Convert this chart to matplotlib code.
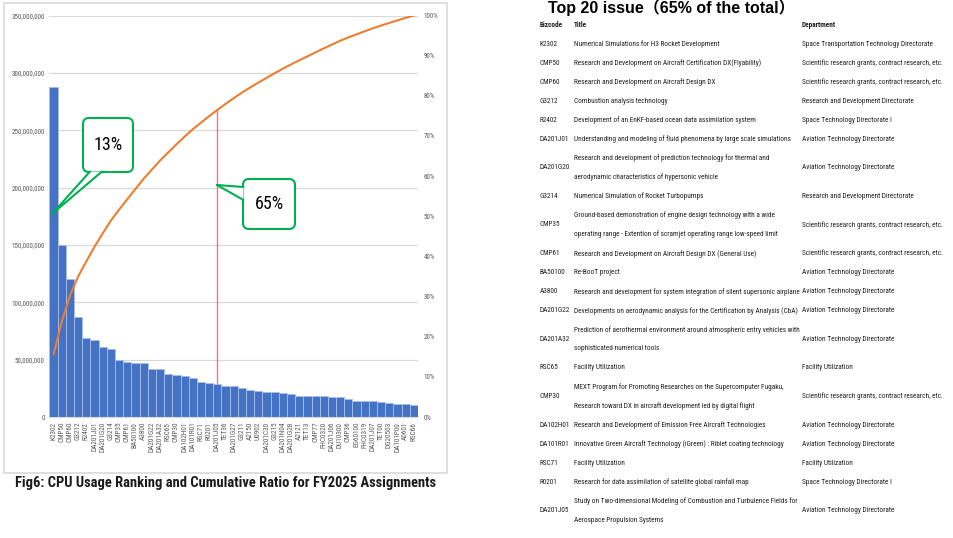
import numpy as np
import matplotlib
matplotlib.use("Agg")
import matplotlib.pyplot as plt
from matplotlib import font_manager
from matplotlib.patches import FancyBboxPatch, Polygon, Rectangle
from matplotlib.transforms import Affine2D
from matplotlib.ticker import FuncFormatter, MultipleLocator

# ---- data ----
bizcodes = ["K2302", "CMP50", "CMP60", "G3212", "R2402", "DA201J01", "DA201G20", "G3214",
            "CMP35", "CMP61", "BA50100", "A3800", "DA201G22", "DA201A32", "RSC65", "CMP30",
            "DA102H01", "DA101R01", "RSC71", "R0201", "DA201J05", "TET36", "DA201G27", "G3211",
            "A2150", "U0902", "DA201C30", "G3215", "DA201N04", "DA201G28", "A2121", "TET13",
            "CMP77", "FHC0320", "DA201J06", "DU10300", "CMP36", "EG60100", "FHC0319", "DA201J07",
            "TET00", "DG20503", "DA101P00", "A0601", "RSC66"]
cpu_usage = [288, 150, 120, 87.5, 69.2, 67.2, 61.4, 59.1, 49.7, 48.0, 47.1, 46.8, 41.9, 41.6,
             37.5, 36.9, 35.5, 33.8, 30.5, 29.7, 28.8, 27.3, 26.8, 25.3, 23.3, 22.4, 21.8, 21.6,
             20.7, 19.8, 18.6, 18.3, 18.3, 18.3, 17.5, 17.5, 15.4, 14.0, 14.0, 13.7, 12.8, 12.0,
             11.6, 11.6, 10.7]  # millions
cpu_usage = np.array(cpu_usage) * 1e6
cut_index = 20  # DA201J05

table_codes = bizcodes[:21]
table_titles = [
    "Numerical Simulations for H3 Rocket Development",
    "Research and Development on Aircraft Certification DX(Flyability)",
    "Research and Development on Aircraft Design DX",
    "Combustion analysis technology",
    "Development of an EnKF-based ocean data assimilation system",
    "Understanding and modeling of fluid phenomena by large scale simulations",
    "Research and development of prediction technology for thermal and\naerodynamic characteristics of hypersonic vehicle",
    "Numerical Simulation of Rocket Turbopumps",
    "Ground-based demonstration of engine design technology with a wide\noperating range - Extention of scramjet operating range low-speed limit",
    "Research and Development on Aircraft Design DX (General Use)",
    "Re-BooT project",
    "Research and development for system integration of silent supersonic airplane",
    "Developments on aerodynamic analysis for the Certification by Analysis (CbA)",
    "Prediction of aerothermal environment around atmospheric entry vehicles with\nsophisticated numerical tools",
    "Facility Utilization",
    "MEXT Program for Promoting Researches on the Supercomputer Fugaku,\nResearch toward DX in aircraft development led by digital flight",
    "Research and Development of Emission Free Aircraft Technologies",
    "Innovative Green Aircraft Technology (iGreen) : Riblet coating technology",
    "Facility Utilization",
    "Research for data assimilation of satellite global rainfall map",
    "Study on Two-dimensional Modeling of Combustion and Turbulence Fields for\nAerospace Propulsion Systems",
]
SCI = "Scientific research grants, contract research, etc."
AVI = "Aviation Technology Directorate"
RDD = "Research and Development Directorate"
table_depts = ["Space Transportation Technology Directorate", SCI, SCI, RDD,
               "Space Technology Directorate I", AVI, AVI, RDD, SCI, SCI, AVI, AVI, AVI, AVI,
               "Facility Utilization", SCI, AVI, AVI, "Facility Utilization",
               "Space Technology Directorate I", AVI]

# ---- fonts ----
names = {f.name for f in font_manager.fontManager.ttflist}
narrow = next((n for n in ["Roboto Condensed", "Liberation Sans Narrow", "DejaVu Sans"] if n in names), "DejaVu Sans")
plt.rcParams["font.family"] = [narrow, "DejaVu Sans"]

W, H = 954, 538
fig = plt.figure(figsize=(W / 100, H / 100), dpi=100)
# pixel coordinates (origin top-left) -> figure
T = Affine2D().scale(1 / W, -1 / H).translate(0, 1) + fig.transFigure
renderer = fig.canvas.get_renderer()


def fit(t, width_px):
    w = t.get_window_extent(renderer).width
    t.set_fontsize(t.get_fontsize() * width_px / w)
    return t


# chart area frame
fig.patches.append(Rectangle((4, 3), 443, 470, transform=T, fill=False,
                             edgecolor="#d9d9d9", lw=1.2, zorder=-1))

ax = fig.add_axes([49.5 / W, 1 - 417 / H, (418 - 49.5) / W, (417 - 15.5) / H])
x = np.arange(len(bizcodes))
ax.bar(x, cpu_usage, width=1.0, color="#4472C4", edgecolor="#a9bfe6", linewidth=0.6, zorder=2)
ax.set_xlim(-0.5, len(bizcodes) - 0.5)
ax.set_ylim(0, 350e6)
ax.yaxis.set_major_locator(MultipleLocator(50e6))
ax.yaxis.set_major_formatter(FuncFormatter(lambda v, p: f"{int(v):,}"))
ax.set_xticks(x)
ax.set_xticklabels(bizcodes, rotation=90)
ax.grid(axis="y", color="#d9d9d9", lw=0.9)
ax.set_axisbelow(True)
for s in ["top", "left", "right"]:
    ax.spines[s].set_visible(False)
ax.spines["bottom"].set_color("#d9d9d9")
ax.tick_params(axis="y", length=0, pad=3.5, labelsize=5, labelcolor="#595959")
ax.tick_params(axis="x", length=0, pad=3.5, labelsize=5.2, labelcolor="#595959")

ax2 = ax.twinx()
cum_pct = np.cumsum(cpu_usage) / cpu_usage.sum() * 100
ax2.plot(x, cum_pct, color="#ED7D31", lw=1.5, zorder=3)
ax2.set_ylim(0, 100)
ax2.yaxis.set_major_locator(MultipleLocator(10))
ax2.yaxis.set_major_formatter(FuncFormatter(lambda v, p: f"{int(v)}%"))
for s in ax2.spines.values():
    s.set_visible(False)
ax2.tick_params(axis="y", length=0, pad=4, labelsize=5, labelcolor="#595959")
ax2.vlines(cut_index, cpu_usage[cut_index] / 350e6 * 100, cum_pct[cut_index],
           color="#ff6f73", lw=1.0, zorder=2)

# callouts
green = "#00B050"


def callout(box, base1, base2, tip, label):
    bx, by, bw, bh = box
    fig.patches.append(FancyBboxPatch((bx, by), bw, bh, boxstyle="round,pad=0,rounding_size=6",
                                      transform=T, facecolor="white", edgecolor=green,
                                      lw=1.5, zorder=5))
    fig.patches.append(Polygon([base1, tip, base2], closed=True, transform=T,
                               facecolor="white", edgecolor="none", zorder=6))
    for b in (base1, base2):
        fig.lines.append(plt.Line2D([b[0], tip[0]], [b[1], tip[1]], transform=T,
                                    color=green, lw=1.5, zorder=7, solid_capstyle="round"))
    fig.text(bx + bw / 2, by + bh / 2, label, transform=T, ha="center", va="center",
             fontsize=13, color="black", zorder=8)


callout((83, 118, 50, 54), (90, 171.5), (102, 171.5), (52, 214), "13%")
callout((243, 179, 52, 50), (243.5, 187), (243.5, 200), (217, 185), "65%")

# caption
cap = fig.text(15, 487, "Fig6: CPU Usage Ranking and Cumulative Ratio for FY2025 Assignments",
               transform=T, ha="left", va="baseline", fontsize=10, fontweight="bold",
               color="#1a1a1a")
fit(cap, 420)

# ---- table ----
ttl = fig.text(548, 13.5, "Top 20 issue（65% of the total）", transform=T, ha="left",
               va="baseline", fontsize=12, fontweight="bold", color="black",
               family=["Liberation Sans", "Noto Sans CJK JP", "DejaVu Sans"])
fit(ttl, 245)

probe = fig.text(0, 0, table_titles[11], fontsize=10)
tsize = 10 * 224 / probe.get_window_extent(renderer).width
probe.remove()

col_x = [540, 574, 802]
txt_color = "#1f1f1f"
for cx, lab in zip(col_x, ["Bizcode", "Title", "Department"]):
    fig.text(cx, 25, lab, transform=T, ha="left", va="center", fontsize=tsize,
             fontweight="bold", color=txt_color)

step = 19.05
y = 44
for code, title, dept in zip(table_codes, table_titles, table_depts):
    lines = title.split("\n")
    ymid = y + step * (len(lines) - 1) / 2
    fig.text(col_x[0], ymid, code, transform=T, ha="left", va="center", fontsize=tsize, color=txt_color)
    for i, ln in enumerate(lines):
        fig.text(col_x[1], y + i * step, ln, transform=T, ha="left", va="center",
                 fontsize=tsize, color=txt_color)
    fig.text(col_x[2], ymid, dept, transform=T, ha="left", va="center", fontsize=tsize, color=txt_color)
    y += step * len(lines)

fig.savefig("out.png", dpi=100)
